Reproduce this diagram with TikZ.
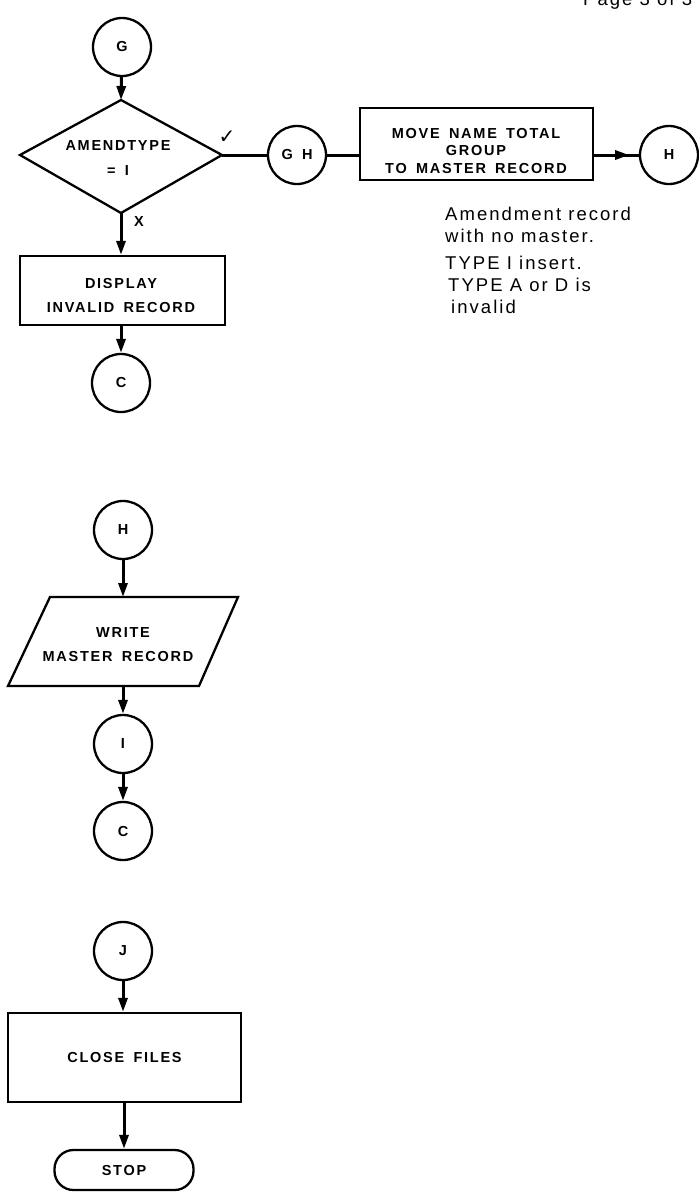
\documentclass[tikz,border=0pt]{standalone}
\usepackage{fontspec}
\setmainfont{Liberation Sans}
\newfontfamily\lblfont[LetterSpace=12,WordSpace=1.6]{Liberation Sans}
\newfontfamily\notefont[LetterSpace=11]{Liberation Sans}
\newfontfamily\symfont{DejaVu Sans}
\usetikzlibrary{arrows.meta}
\tikzset{
  conn/.style={line width=3pt},
  arr/.style={conn,-{Triangle[length=14pt,width=9pt]}},
  outline/.style={line width=2.3pt, line join=miter},
  lbl/.style={font=\lblfont\bfseries\fontsize{14.5}{17}\selectfont, inner sep=0pt, align=center},
  circ/.style={circle, draw, line width=2.3pt, minimum size=58pt, inner sep=0pt, lbl},
  pbox/.style={rectangle, draw, line width=2.3pt, lbl},
  term/.style={rectangle, draw, line width=2.3pt, rounded corners=19pt, lbl},
  note/.style={font=\notefont\fontsize{18.5}{22}\selectfont, inner sep=0pt, anchor=base west}
}
\begin{document}
\begin{tikzpicture}[x=1pt,y=-1pt]
\useasboundingbox (0,0) rectangle (699,1192);
\clip (0,0) rectangle (699,1192);

\node[note] (page) at (583,5) {Page 3 of 3};

% connector G
\node[circ] (G) at (122,47) {G};

% decision
\coordinate (dt) at (121,100);
\coordinate (dr) at (222,155);
\coordinate (db) at (121,213);
\coordinate (dl) at (20,155);
\draw[outline] (dt) -- (dr) -- (db) -- (dl) -- cycle;
\node[lbl] (dtxt1) at (118,146) {AMENDTYPE};
\node[lbl] (dtxt2) at (118,171) {= I};
\node[font=\symfont\fontsize{20}{20}\selectfont, inner sep=0pt] (yes) at (227,137) {✓};
\node[lbl] (no) at (139,222) {X};
\draw[arr] (G) -- (dt);

% GH branch
\node[circ] (GH) at (297,155) {G H};
\draw[conn] (dr) -- (GH);
\node[pbox, minimum width=233pt, minimum height=72pt] (move) at (476.5,144) {};
\node[lbl] (mv1) at (476,134) {MOVE NAME TOTAL};
\node[lbl] (mv2) at (476,151) {GROUP};
\node[lbl] (mv3) at (476,169) {TO MASTER RECORD};
\draw[conn] (GH.east) -- (GH.east -| move.west);
\node[circ] (H1) at (669,155) {H};
\draw[conn] (move.east |- H1) -- (H1.west);
\draw[arr] (move.east |- H1) -- ++(35,0);

\node[note] (n1) at (445,220) {Amendment record};
\node[note] (n2) at (445,242) {with no master.};
\node[note] (n3) at (445,269) {TYPE I insert.};
\node[note] (n4) at (448,291) {TYPE A or D is};
\node[note] (n5) at (451,313) {invalid};

% invalid branch
\node[pbox, minimum width=205pt, minimum height=69pt] (disp) at (122.5,290.5) {};
\node[lbl] (ds1) at (121,284) {DISPLAY};
\node[lbl] (ds2) at (121,308) {INVALID RECORD};
\draw[arr] (db) -- (db |- disp.north);
\node[circ] (C1) at (121,383) {C};
\draw[arr] (disp.south -| C1) -- (C1);

% H block
\node[circ] (H2) at (123,530) {H};
\coordinate (wtl) at (50,597);
\coordinate (wtr) at (238,597);
\coordinate (wbr) at (199,686);
\coordinate (wbl) at (8,686);
\coordinate (wtop) at (123,597);
\coordinate (wbot) at (123,686);
\draw[outline] (wtl) -- (wtr) -- (wbr) -- (wbl) -- cycle;
\node[lbl] (w1) at (123,633) {WRITE};
\node[lbl] (w2) at (118,656) {MASTER RECORD};
\draw[arr] (H2) -- (wtop);
\node[circ] (I) at (123,744) {I};
\draw[arr] (wbot) -- (I);
\node[circ] (C2) at (123,831) {C};
\draw[arr] (I) -- (C2);

% J block
\node[circ] (J) at (123,951) {J};
\node[pbox, minimum width=233pt, minimum height=89pt] (close) at (124.5,1057.5) {CLOSE FILES};
\draw[arr] (J) -- (J |- close.north);
\node[term, minimum width=139pt, minimum height=40pt] (stop) at (124,1170) {STOP};
\draw[arr] (close.south -| stop) -- (stop);
\end{tikzpicture}
\end{document}
